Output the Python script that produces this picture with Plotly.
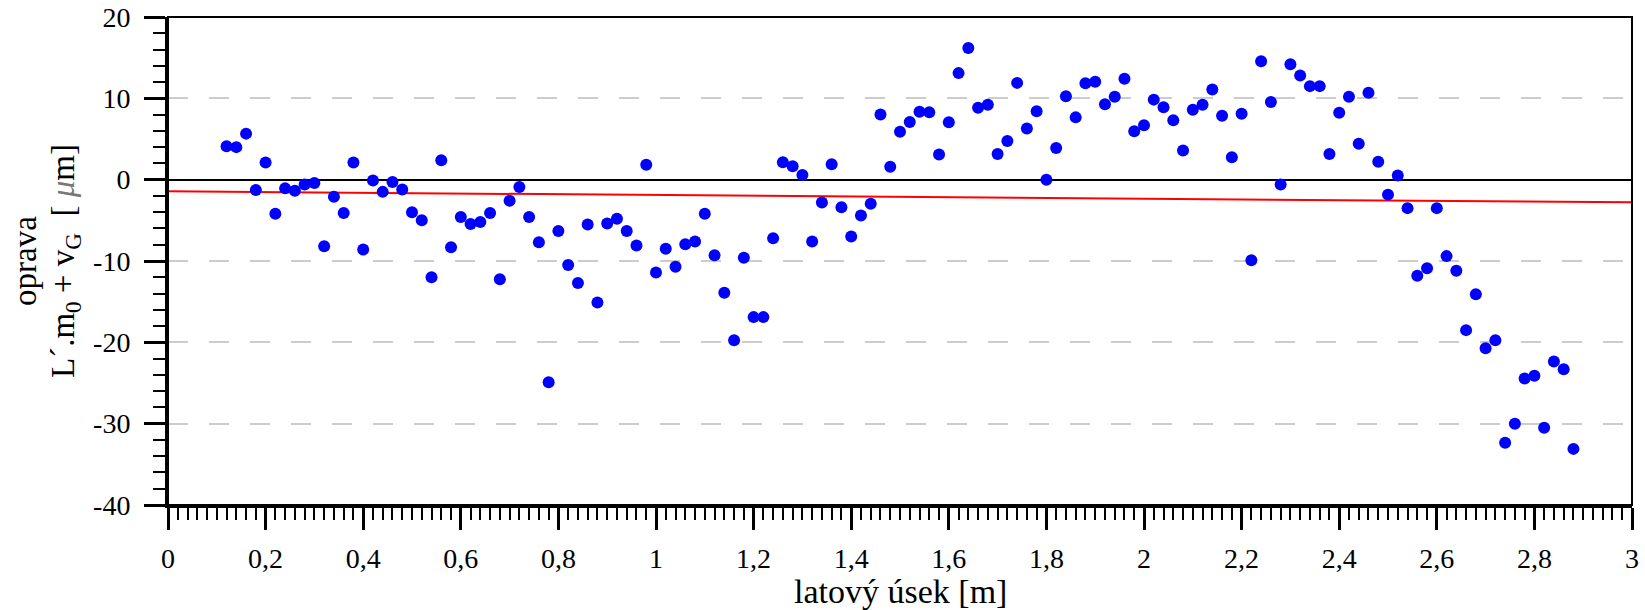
import plotly.graph_objects as go

# ---- data ----
useky = [0.12, 0.14, 0.16, 0.18, 0.20, 0.22, 0.24, 0.26, 0.28, 0.30,
         0.32, 0.34, 0.36, 0.38, 0.40, 0.42, 0.44, 0.46, 0.48, 0.50,
         0.52, 0.54, 0.56, 0.58, 0.60, 0.62, 0.64, 0.66, 0.68, 0.70,
         0.72, 0.74, 0.76, 0.78, 0.80, 0.82, 0.84, 0.86, 0.88, 0.90,
         0.92, 0.94, 0.96, 0.98, 1.00, 1.02, 1.04, 1.06, 1.08, 1.10,
         1.12, 1.14, 1.16, 1.18, 1.20, 1.22, 1.24, 1.26, 1.28, 1.30,
         1.32, 1.34, 1.36, 1.38, 1.40, 1.42, 1.44, 1.46, 1.48, 1.50,
         1.52, 1.54, 1.56, 1.58, 1.60, 1.62, 1.64, 1.66, 1.68, 1.70,
         1.72, 1.74, 1.76, 1.78, 1.80, 1.82, 1.84, 1.86, 1.88, 1.90,
         1.92, 1.94, 1.96, 1.98, 2.00, 2.02, 2.04, 2.06, 2.08, 2.10,
         2.12, 2.14, 2.16, 2.18, 2.20, 2.22, 2.24, 2.26, 2.28, 2.30,
         2.32, 2.34, 2.36, 2.38, 2.40, 2.42, 2.44, 2.46, 2.48, 2.50,
         2.52, 2.54, 2.56, 2.58, 2.60, 2.62, 2.64, 2.66, 2.68, 2.70,
         2.72, 2.74, 2.76, 2.78, 2.80, 2.82, 2.84, 2.86, 2.88]

opravy = [4.1, 4.0, 5.66, -1.27, 2.1, -4.2, -1.07, -1.35, -0.6, -0.4,
          -8.2, -2.1, -4.1, 2.1, -8.6, -0.1, -1.5, -0.3, -1.2, -4.0,
          -5.0, -12.0, 2.4, -8.3, -4.6, -5.45, -5.2, -4.1, -12.25, -2.6,
          -0.9, -4.6, -7.7, -24.9, -6.3, -10.5, -12.7, -5.5, -15.1, -5.4,
          -4.8, -6.3, -8.1, 1.84, -11.4, -8.5, -10.7, -7.95, -7.6, -4.2,
          -9.3, -13.9, -19.75, -9.6, -16.9, -16.9, -7.2, 2.13, 1.64, 0.57,
          -7.6, -2.8, 1.9, -3.4, -7.0, -4.4, -2.95, 8.0, 1.6, 5.9,
          7.1, 8.36, 8.28, 3.1, 7.05, 13.1, 16.2, 8.85, 9.2, 3.16,
          4.75, 11.9, 6.3, 8.4, 0.0, 3.9, 10.25, 7.66, 11.85, 12.05,
          9.26, 10.2, 12.4, 5.94, 6.68, 9.84, 8.9, 7.3, 3.6, 8.6,
          9.2, 11.1, 7.87, 2.75, 8.1, -9.9, 14.55, 9.55, -0.6, 14.2,
          12.8, 11.5, 11.5, 3.16, 8.24, 10.2, 4.43, 10.7, 2.2, -1.84,
          0.5, -3.5, -11.8, -10.9, -3.5, -9.4, -11.2, -18.5, -14.1, -20.74,
          -19.75, -32.35, -30.0, -24.44, -24.1, -30.5, -22.35, -23.3, -33.1]

fit_x = [0.0, 3.0]
fit_y = [-1.43, -2.79]

y_tickvals = [20, 10, 0, -10, -20, -30, -40]
y_ticktext = ["20", "10", "0", "-10", "-20", "-30", "-40"]
x_tickvals = [0, 0.2, 0.4, 0.6, 0.8, 1, 1.2, 1.4, 1.6, 1.8, 2, 2.2, 2.4, 2.6, 2.8, 3]
x_ticktext = ["0", "0,2", "0,4", "0,6", "0,8", "1", "1,2", "1,4", "1,6", "1,8",
              "2", "2,2", "2,4", "2,6", "2,8", "3"]

FONT = "Liberation Serif, Times New Roman, serif"

fig = go.Figure()
fig.add_trace(go.Scatter(x=fit_x, y=fit_y, mode="lines",
                         line=dict(color="#ff0000", width=2), showlegend=False,
                         hoverinfo="skip"))
fig.add_trace(go.Scatter(x=useky, y=opravy, mode="markers",
                         marker=dict(color="#0000ff", size=12, line=dict(width=0)),
                         showlegend=False))

fig.update_layout(
    width=1645, height=610,
    margin=dict(l=168, r=13, t=17, b=105, autoexpand=False),
    paper_bgcolor="white", plot_bgcolor="white",
    font=dict(family=FONT, size=28, color="black"),
    showlegend=False,
)

fig.update_xaxes(
    range=[0, 3], tickvals=x_tickvals, ticktext=x_ticktext, automargin=False,
    showline=True, linecolor="black", linewidth=3, mirror=False,
    ticks="outside", ticklen=22, tickwidth=3, tickcolor="black",
    ticklabelstandoff=4,
    minor=dict(ticks="outside", dtick=0.02, ticklen=12, tickwidth=2,
               tickcolor="black", showgrid=False),
    showgrid=False, zeroline=False,
    tickfont=dict(family=FONT, size=28, color="black"),
)
fig.update_yaxes(
    range=[-40, 20], tickvals=y_tickvals, ticktext=y_ticktext, automargin=False,
    showline=True, linecolor="black", linewidth=3, mirror=False,
    ticks="outside", ticklen=21, tickwidth=3, tickcolor="black",
    ticklabelstandoff=8,
    minor=dict(ticks="outside", dtick=2, ticklen=12, tickwidth=2,
               tickcolor="black", showgrid=False),
    showgrid=True, gridcolor="#cccccc", gridwidth=2, griddash="20px,21px",
    zeroline=True, zerolinecolor="black", zerolinewidth=2,
    tickfont=dict(family=FONT, size=28, color="black"),
)

# frame (top and right borders)
fig.add_shape(type="rect", xref="x domain", yref="y domain", x0=0, x1=1, y0=0, y1=1,
              line=dict(color="black", width=2), layer="above")

# axis titles
fig.add_annotation(text="latový úsek [m]", xref="paper", yref="paper",
                   x=0.5, y=0, xanchor="center", yanchor="middle", yshift=-86,
                   showarrow=False, font=dict(family=FONT, size=34, color="black"))
fig.add_annotation(text="oprava", xref="paper", yref="paper",
                   x=0, y=0.5, xanchor="center", yanchor="middle", xshift=-143,
                   textangle=-90, showarrow=False,
                   font=dict(family=FONT, size=33, color="black"))
fig.add_annotation(text="L´.m<sub>0</sub> + v<sub>G</sub>  [ <span style='color:#777777'><i>μ</i></span>m]",
                   xref="paper", yref="paper",
                   x=0, y=0.5, xanchor="center", yanchor="middle", xshift=-103,
                   textangle=-90, showarrow=False,
                   font=dict(family=FONT, size=33, color="black"))

fig.write_html("out.html",
               config={"displayModeBar": False},
               post_script="document.body.style.margin='0';document.body.style.overflow='hidden';")
